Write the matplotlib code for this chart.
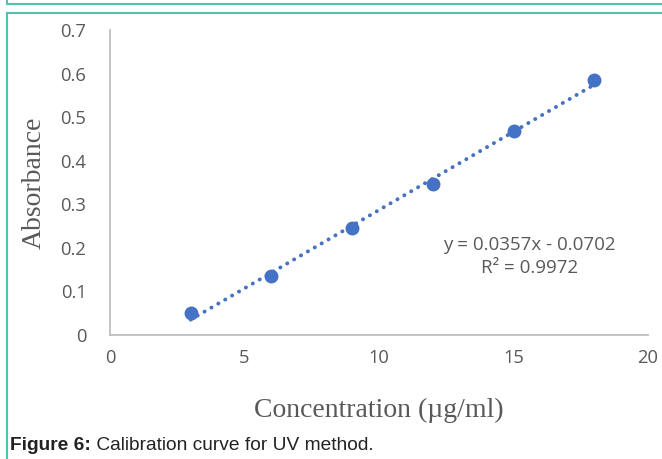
import matplotlib
matplotlib.use("Agg")
import matplotlib.pyplot as plt
import numpy as np
from matplotlib.lines import Line2D

concentration = [3, 6, 9, 12, 15, 18]
absorbance = [0.050, 0.135, 0.245, 0.346, 0.468, 0.585]
x_ticks = [0, 5, 10, 15, 20]
y_ticks = [0, 0.1, 0.2, 0.3, 0.4, 0.5, 0.6, 0.7]
y_tick_labels = ["0", "0.1", "0.2", "0.3", "0.4", "0.5", "0.6", "0.7"]
equation_text = "y = 0.0357x - 0.0702\nR² = 0.9972"
caption_bold = "Figure 6:"
caption_rest = " Calibration curve for UV method."

W, H = 662, 459
fig = plt.figure(figsize=(W / 100, H / 100), dpi=100)
fig.patch.set_facecolor("white")

teal = "#4FC4B2"
fig.add_artist(Line2D([7 / W, 1.0], [1 - 4 / H, 1 - 4 / H], color=teal, lw=1.5, transform=fig.transFigure))
fig.add_artist(Line2D([7 / W, 7 / W], [1 - 4 / H, 1.0], color=teal, lw=1.5, transform=fig.transFigure))
fig.add_artist(Line2D([7 / W, 1.0], [1 - 13 / H, 1 - 13 / H], color=teal, lw=1.5, transform=fig.transFigure))
fig.add_artist(Line2D([7 / W, 7 / W], [0, 1 - 13 / H], color=teal, lw=1.5, transform=fig.transFigure))

ax = fig.add_axes([110 / W, 1 - 335 / H, (648 - 110) / W, (335 - 30) / H])
ax.set_xlim(0, 20)
ax.set_ylim(0, 0.7)

blue = "#4472C4"
coef = np.polyfit(concentration, absorbance, 1)
xf = np.array([concentration[0], concentration[-1]])
ax.plot(xf, np.polyval(coef, xf), linestyle=(0, (0.05, 2.0)), color=blue, lw=2.8,
        dash_capstyle="round", zorder=2)
ax.plot(concentration, absorbance, "o", color=blue, markersize=9, zorder=3)

for s in ["top", "right"]:
    ax.spines[s].set_visible(False)
for s in ["left", "bottom"]:
    ax.spines[s].set_color("#BFBFBF")
    ax.spines[s].set_linewidth(1.3)

tick_font = "Open Sans"
ax.set_xticks(x_ticks)
ax.set_yticks(y_ticks)
ax.set_yticklabels(y_tick_labels)
ax.tick_params(length=0, colors="#595959", labelsize=13.2, pad=17)
ax.tick_params(axis="x", pad=10)
for lab in ax.get_xticklabels() + ax.get_yticklabels():
    lab.set_fontfamily(tick_font)

ax.set_xlabel("Concentration (µg/ml)", family="Liberation Serif", fontsize=20, color="#595959", labelpad=22)
ax.set_ylabel("Absorbance", family="Liberation Serif", fontsize=20, color="#595959", labelpad=10)

ax.text(15.6, 0.181, equation_text, ha="center", va="center", family=tick_font, fontsize=13.5,
        color="#595959", linespacing=1.35)

t = fig.text(10 / W, 1 - 445 / H, caption_bold, family="Liberation Sans", fontweight="bold",
             fontsize=13.8, color="#222222", va="center", ha="left")
fig.canvas.draw()
bb = t.get_window_extent()
fig.text(bb.x1 / W, 1 - 445 / H, caption_rest, family="Liberation Sans", fontsize=13.8,
         color="#222222", va="center", ha="left")

fig.savefig("out.png", dpi=100)
